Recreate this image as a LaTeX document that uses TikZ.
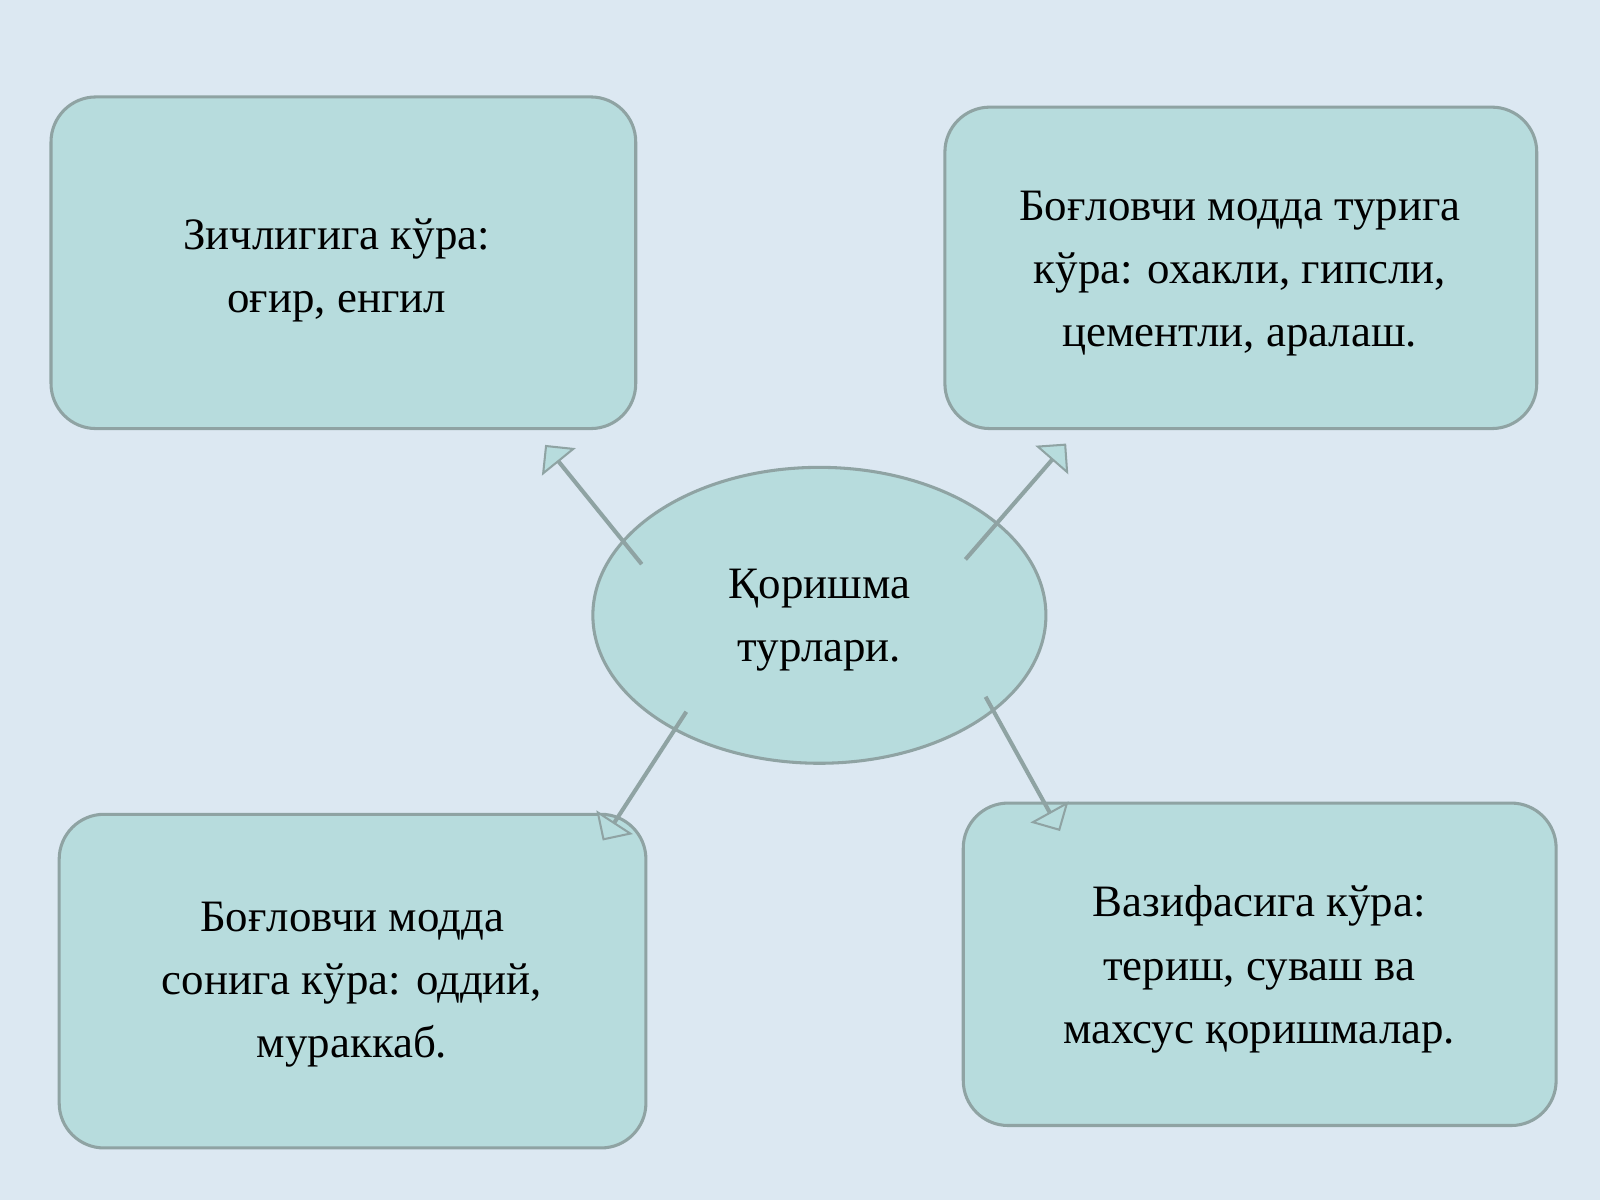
\documentclass[tikz,border=0pt]{standalone}
\usepackage{fontspec}
\setmainfont{Liberation Serif}
\usetikzlibrary{shapes.arrows,shapes.geometric}
\definecolor{bg}{HTML}{DCE8F2}
\definecolor{boxf}{HTML}{B7DCDD}
\definecolor{boxd}{HTML}{8FA3A3}
\begin{document}
\begin{tikzpicture}[x=0.5pt,y=-0.5pt,
  box/.style={draw=boxd,line width=1.5pt,fill=boxf,rounded corners=22pt},
  txt/.style={align=center,font=\fontsize{22}{31}\selectfont},
  arr/.style={single arrow,draw=boxd,line width=1pt,fill=boxf,inner sep=0pt,minimum width=18pt,single arrow head extend=9pt,minimum height=74pt}]
\fill[bg] (0,0) rectangle (1568,1176);
\draw[box] (50,95) rectangle (623,420);
\draw[box] (926,105) rectangle (1506,420);
\draw[box] (58,798) rectangle (633,1125);
\draw[box] (944,787) rectangle (1525,1103);
\node[txt] (t1) at (330,265) {Зичлигига кўра:\\ оғир, енгил};
\node[txt] (t2) at (1215,268) {Боғловчи модда турига\\ кўра: охакли, гипсли,\\ цементли, аралаш.};
\node[txt] (t3) at (345,965) {Боғловчи модда\\ сонига кўра: оддий,\\ мураккаб.};
\node[txt] (t4) at (1234,950) {Вазифасига кўра:\\ териш, суваш ва\\ махсус қоришмалар.};
\node[draw=boxd,line width=1.5pt,fill=boxf,ellipse,minimum width=222pt,minimum height=145pt] (c) at (803,603) {};
\node[txt] (ct) at (803,608) {Қоришма\\ турлари.};
\node[arr,rotate=129] (a1) at (582,495) {};
\node[arr,rotate=49] (a2) at (995,492) {};
\node[arr,rotate=237] (a3) at (632,760) {};
\node[arr,rotate=-61] (a4) at (1002,748) {};
\end{tikzpicture}
\end{document}
